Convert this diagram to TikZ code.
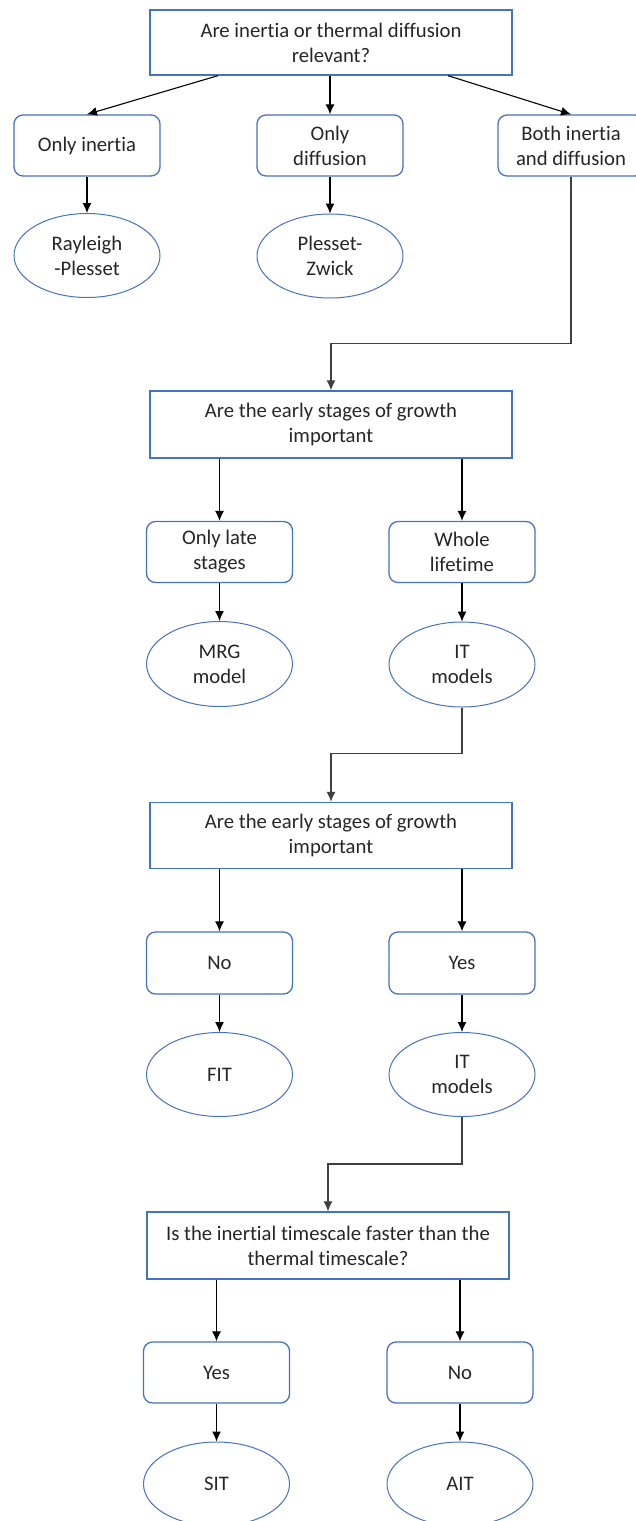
\documentclass[tikz,border=0pt]{standalone}
\usepackage{fontspec}
\setmainfont{Carlito}[RawFeature={-liga;-clig;-calt;-dlig}]
\usetikzlibrary{shapes.geometric,arrows.meta}
\definecolor{bl}{HTML}{4472C4}
\definecolor{tx}{HTML}{262626}
\begin{document}
\begin{tikzpicture}[x=1pt,y=-1pt,
  every node/.style={font=\fontsize{20.7}{25}\selectfont,text=tx,align=center,inner sep=0pt},
  qbox/.style={draw=bl,line width=1.3pt,minimum width=362pt,minimum height=65pt},
  rbox/.style={draw=bl,line width=1.3pt,rounded corners=9pt,minimum width=146pt,minimum height=61pt},
  ebox/.style={draw=bl,line width=1pt,ellipse,minimum width=146pt,minimum height=84pt},
  arr/.style={-{Latex[length=10pt,width=9pt]},line width=1.1pt,black},
  elb/.style={-{Latex[length=10pt,width=9pt]},line width=1.2pt,black!75}]
\useasboundingbox (0,0) rectangle (636,1521);
\clip (0,0) rectangle (636,1521);
% level 1
\node[qbox] (q1) at (331,42.5) {Are inertia or thermal diffusion\\relevant?};
\node[rbox] (a1) at (87,145.5) {Only inertia};
\node[rbox] (a2) at (330,145.5) {Only\\diffusion};
\node[rbox] (a3) at (571,145.5) {Both inertia\\and diffusion};
\node[ebox] (e1) at (87,255.5) {Rayleigh\\-Plesset};
\node[ebox] (e2) at (330,256) {Plesset-\\Zwick};
\draw[arr] ([xshift=-113pt]q1.south) -- (a1.north);
\draw[arr] (q1.south -| a2.north) -- (a2.north);
\draw[arr] ([xshift=117pt]q1.south) -- (a3.north);
\draw[arr] (a1.south) -- (e1.north);
\draw[arr] (a2.south) -- (e2.north);
% level 2
\node[qbox,minimum height=67pt] (q2) at (331,424.5) {Are the early stages of growth\\important};
\node[rbox] (b1) at (219.5,552) {Only late\\stages};
\node[rbox] (b2) at (462,552) {Whole\\lifetime};
\node[ebox,minimum height=85pt] (e3) at (219.5,664) {MRG\\model};
\node[ebox,minimum height=85pt] (e4) at (462,664.5) {IT\\models};
\draw[elb] (a3.south) -- ++(0,167) -| (q2.north);
\draw[arr] (q2.south -| b1.north) -- (b1.north);
\draw[arr] (q2.south -| b2.north) -- (b2.north);
\draw[arr] (b1.south) -- (e3.north);
\draw[arr] (b2.south) -- (e4.north);
% level 3
\node[qbox,minimum height=66pt] (q3) at (331,835.5) {Are the early stages of growth\\important};
\node[rbox,minimum height=62pt] (c1) at (219.5,963) {No};
\node[rbox,minimum height=62pt] (c2) at (462,963) {Yes};
\node[ebox] (e5) at (219.5,1074.5) {FIT};
\node[ebox] (e6) at (462,1074.5) {IT\\models};
\draw[elb] (e4.south) -- ++(0,46) -| (q3.north);
\draw[arr] (q3.south -| c1.north) -- (c1.north);
\draw[arr] (q3.south -| c2.north) -- (c2.north);
\draw[arr] (c1.south) -- (e5.north);
\draw[arr] (c2.south) -- (e6.north);
% level 4
\node[qbox,minimum height=67pt] (q4) at (328,1245.5) {Is the inertial timescale faster than the\\thermal timescale?};
\node[rbox] (d1) at (216.5,1372.5) {Yes};
\node[rbox] (d2) at (460,1372.5) {No};
\node[ebox] (e7) at (216.5,1484) {SIT};
\node[ebox] (e8) at (460,1484) {AIT};
\draw[elb] (e6.south) -- ++(0,47) -| (q4.north);
\draw[arr] (q4.south -| d1.north) -- (d1.north);
\draw[arr] (q4.south -| d2.north) -- (d2.north);
\draw[arr] (d1.south) -- (e7.north);
\draw[arr] (d2.south) -- (e8.north);
\end{tikzpicture}
\end{document}
